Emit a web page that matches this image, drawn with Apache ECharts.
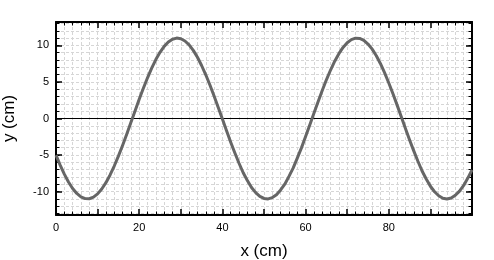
<!DOCTYPE html>
<html><head><meta charset="utf-8">
<script src="https://cdn.jsdelivr.net/npm/echarts@6/dist/echarts.min.js"></script>
<style>html,body{margin:0;padding:0;background:#fff}#c{width:494px;height:260px}</style>
</head><body><div id="c"></div>
<script>
const xValues = [0,1,2,3,4,5,6,7,8,9,10,11,12,13,14,15,16,17,18,19,20,21,22,23,24,25,26,27,28,29,30,31,32,33,34,35,36,37,38,39,40,41,42,43,44,45,46,47,48,49,50,51,52,53,54,55,56,57,58,59,60,61,62,63,64,65,66,67,68,69,70,71,72,73,74,75,76,77,78,79,80,81,82,83,84,85,86,87,88,89,90,91,92,93,94,95,96,97,98,99,100];
const yValues = [-5.01,-6.38,-7.61,-8.68,-9.57,-10.25,-10.72,-10.96,-10.98,-10.76,-10.31,-9.64,-8.78,-7.72,-6.50,-5.15,-3.69,-2.15,-0.56,1.04,2.62,4.13,5.57,6.88,8.06,9.06,9.87,10.46,10.85,11.00,10.91,10.60,10.07,9.32,8.38,7.25,5.98,4.59,3.08,1.51,-0.08,-1.67,-3.24,-4.72,-6.12,-7.42,-8.48,-9.44,-10.14,-10.65,-10.93,-11.00,-10.82,-10.43,-9.78,-8.99,-7.92,-6.79,-5.42,-4.02,-2.46,-0.88,0.72,2.30,3.84,5.29,6.63,7.84,8.87,9.72,10.36,10.79,10.99,10.95,10.69,10.19,9.49,8.58,7.49,6.24,4.86,3.39,1.83,0.24,-1.36,-2.93,-4.43,-5.85,-7.18,-8.28,-9.27,-10.02,-10.57,-10.90,-11.00,-10.88,-10.50,-9.93,-9.16,-8.15,-7.03];
const xTickLabels = [0,20,40,60,80];
const yTickLabels = [-10,-5,0,5,10];
const yMinorTicks = [-13,-12,-11,-10,-9,-8,-7,-6,-5,-4,-3,-2,-1,0,1,2,3,4,5,6,7,8,9,10,11,12,13];

const font = 'Liberation Sans, Arial, sans-serif';
const gridLine = {show:true, lineStyle:{color:'#d6d6d6', width:1, type:[3,2]}};
function xAxisDef(pos, labels){
  return {
    type:'value', position:pos, min:0, max:100, interval:10,
    axisLine:{show:true, onZero:false, lineStyle:{color:'#000', width:2}},
    axisTick:{show:true, inside:true, length:6, lineStyle:{color:'#000', width:1.5}},
    minorTick:{show:true, splitNumber:5, length:3.5, lineStyle:{color:'#000', width:1}},
    axisLabel:{show:labels, color:'#000', fontFamily:font, fontSize:11, margin:7,
      formatter:v => xTickLabels.includes(v) ? String(v) : ''},
    splitLine: labels ? gridLine : {show:false},
    minorSplitLine: labels ? gridLine : {show:false},
    name: labels ? 'x (cm)' : '', nameLocation:'middle', nameGap:28,
    nameTextStyle:{color:'#000', fontFamily:font, fontSize:17}
  };
}
function yAxisDef(pos, labels){
  return {
    type:'value', position:pos, min:-13.2, max:13.2,
    axisLine:{show:true, onZero:false, lineStyle:{color:'#000', width:2}},
    axisTick:{show:true, inside:true, length:6, customValues:yTickLabels, lineStyle:{color:'#000', width:1.5}},
    axisLabel:{show:labels, customValues:yTickLabels, color:'#000', fontFamily:font, fontSize:11, margin:7},
    splitLine:{show:false},
    name: labels ? 'y (cm)' : '', nameLocation:'middle', nameGap:38, nameRotate:90,
    nameTextStyle:{color:'#000', fontFamily:font, fontSize:17}
  };
}
function yMinorDef(pos, grid){
  return {
    type:'value', position:pos, min:-13.2, max:13.2,
    axisLine:{show:false, onZero:false},
    axisTick:{show:true, inside:true, length:3.5, customValues:yMinorTicks, lineStyle:{color:'#000', width:1}},
    axisLabel:{show:false},
    splitLine: grid ? gridLine : {show:false}
  };
}
const chart = echarts.init(document.getElementById('c'), null, {renderer:'canvas'});
chart.setOption({
  animation:false,
  backgroundColor:'#fff',
  grid:{left:56, right:22, top:22, bottom:45, containLabel:false, outerBoundsMode:'none'},
  xAxis:[
    xAxisDef('bottom', true),
    xAxisDef('top', false),
    {type:'value', min:0, max:100, position:'bottom',
     axisLine:{show:true, onZero:true, onZeroAxisIndex:0, lineStyle:{color:'#000', width:1}},
     axisTick:{show:false}, axisLabel:{show:false}, splitLine:{show:false}}
  ],
  yAxis:[
    yAxisDef('left', true),
    yAxisDef('right', false),
    yMinorDef('left', true),
    yMinorDef('right', false)
  ],
  series:[{
    type:'line', xAxisIndex:0, yAxisIndex:0, smooth:false, symbol:'none',
    data: xValues.map((x,i)=>[x, yValues[i]]),
    lineStyle:{color:'#666666', width:3, join:'round'},
    z:5
  }]
});
</script></body></html>
